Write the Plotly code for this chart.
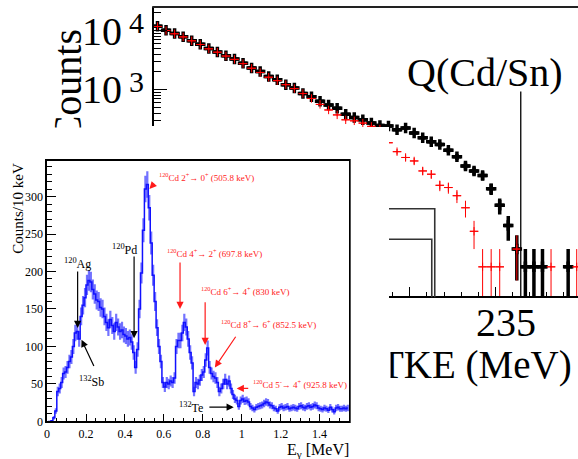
import numpy as np
import plotly.graph_objects as go

W, H = 578, 459
FONT = "Liberation Serif"

def PX(x):
    return x / W

def PY(y):
    return 1 - y / H

# ---------------- main panel: TKE spectra, 0.5 MeV bins ----------------
tke_centers = np.round(np.arange(215.25, 240.0, 0.5), 2)
counts_black = [11800, 10100, 8900, 7850, 6730, 5840, 4960, 4350, 3730, 3290,
                2790, 2330, 2020, 1667, 1468, 1212, 1067, 858, 756, 638,
                547, 482, 383, 338, 308, 271, 248, 242, 210, 224,
                185, 153, 131, 118, 94, 73, 51, 42, 35, 21,
                11, 5, 2, 1, 1, 1, 0, 0, 1, 0]
counts_red = [11700, 10000, 8800, 7800, 6700, 5800, 4900, 4300, 3700, 3250,
              2750, 2300, 1950, 1620, 1420, 1212, 1040, 858, 708, 562,
              452, 373, 308, 296, 271, 239, 215, 126, 89, 71,
              62, 42, 37, 24, 22, 16, 10, 4, 1, 1,
              1, 0, 2, 0, 0, 0, 1, 0, 0, 1]
q_value = 236.48
main_x_ticks = [230, 235]
main_x_minor = [229, 231, 232, 233, 234, 236, 237, 238, 239]
main_y_ticks = [1000, 10000]
main_y_minor = [300, 400, 500, 600, 700, 800, 900,
                2000, 3000, 4000, 5000, 6000, 7000, 8000, 9000, 20000]

# ---------------- inset: gamma-ray spectrum, 10 keV bins ----------------
e_gamma = np.round(np.arange(0.005, 1.55, 0.01), 3)
gamma_counts = [0, 0, 1, 5, 14, 40, 44, 52, 64, 66,
                72, 80, 86, 100, 118, 120, 110, 140, 155, 165,
                182, 188, 186, 176, 170, 162, 160, 152, 150, 140,
                132, 125, 136, 128, 120, 132, 126, 120, 122, 116,
                114, 110, 112, 106, 92, 72, 96, 150, 198, 255,
                310, 316, 285, 238, 195, 160, 125, 100, 80, 52,
                46, 52, 50, 54, 52, 58, 100, 108, 108, 118,
                132, 126, 110, 92, 78, 40, 52, 50, 55, 62,
                66, 82, 98, 72, 64, 60, 58, 52, 40, 44,
                50, 56, 50, 54, 44, 36, 30, 28, 20, 28,
                30, 27, 28, 26, 20, 18, 16, 19, 20, 21,
                22, 24, 26, 25, 22, 21, 18, 17, 14, 19,
                20, 18, 19, 20, 17, 18, 19, 18, 17, 20,
                21, 19, 18, 20, 21, 19, 20, 22, 21, 18,
                17, 16, 18, 17, 15, 19, 16, 13, 18, 19,
                17, 17, 18, 17, 18]

# ---------------- axis geometry (pixels of the 578x459 picture) ----------------
MAIN_L, MAIN_T, MAIN_B = 151, 7, 302
VIS_L, VIS_B = 388, 128          # main axes visible right of / above the inset
X235, PPM = 495.0, 17.2          # pixel of 235 MeV, pixels per MeV
LOG_TOP, LOG_BOT = 4.4, -0.517
def tke_at(px):
    return 235 + (px - X235) / PPM
def log_at(py):
    return LOG_TOP - (py - MAIN_T) / 60.0

IN_L, IN_R, IN_T, IN_B = 44.3, 348, 163, 428

fig = go.Figure()

def poisson(n):
    n = np.asarray(n, float)
    up = np.sqrt(n)
    dn = np.minimum(np.sqrt(n), n - 1e-3)
    return up, dn

cb = np.array(counts_black, float)
mb = cb > 0
up, dn = poisson(cb[mb])
fig.add_trace(go.Scatter(
    x=tke_centers[mb], y=cb[mb], mode="markers", xaxis="x", yaxis="y",
    marker=dict(symbol="cross-thin", size=7.5, line=dict(width=3.5, color="black")),
    error_y=dict(type="data", array=up, arrayminus=dn, thickness=3.5, width=0, color="black"),
    error_x=dict(type="constant", value=0.25, thickness=3.5, width=0, color="black"),
    showlegend=False, hoverinfo="skip"))

cr = np.array(counts_red, float)
mr = cr > 0
up, dn = poisson(cr[mr])
fig.add_trace(go.Scatter(
    x=tke_centers[mr], y=cr[mr], mode="markers", xaxis="x", yaxis="y",
    marker=dict(symbol="cross-thin", size=6, line=dict(width=1, color="#ff0000")),
    error_y=dict(type="data", array=up, arrayminus=dn, thickness=1, width=0, color="#ff0000"),
    error_x=dict(type="constant", value=0.25, thickness=1, width=0, color="#ff0000"),
    showlegend=False, hoverinfo="skip"))

# dummy trace for the visible-tick axes of the main panel
fig.add_trace(go.Scatter(x=[], y=[], xaxis="x3", yaxis="y3", showlegend=False))

gc = np.array(gamma_counts, float)
fig.add_trace(go.Scatter(
    x=e_gamma, y=gc, mode="lines", xaxis="x2", yaxis="y2",
    line=dict(shape="hvh", color="#1010ff", width=1.5),
    error_y=dict(type="data", array=np.sqrt(gc), thickness=2.2, width=0,
                 color="rgba(40,40,255,0.65)"),
    showlegend=False, hoverinfo="skip"))

hidden = dict(visible=False, showgrid=False, zeroline=False)
tickfont = dict(family=FONT, size=12, color="black")

fig.update_layout(
    width=W, height=H, margin=dict(l=0, r=0, t=0, b=0),
    paper_bgcolor="white", plot_bgcolor="rgba(0,0,0,0)",
    font=dict(family=FONT, color="black"),
    xaxis=dict(domain=[PX(MAIN_L), 1], range=[tke_at(MAIN_L), tke_at(W)], anchor="y", **hidden),
    yaxis=dict(domain=[PY(MAIN_B), PY(MAIN_T)], type="log", range=[LOG_BOT, LOG_TOP], anchor="x", **hidden),
    xaxis3=dict(domain=[PX(VIS_L), 1], range=[tke_at(VIS_L), tke_at(W)], anchor="free",
                position=PY(MAIN_B), showgrid=False, zeroline=False,
                showline=True, linewidth=2, linecolor="black",
                tickmode="array", tickvals=main_x_ticks, ticks="inside", ticklen=9,
                tickwidth=1.2, tickcolor="black", showticklabels=False,
                minor=dict(tickvals=main_x_minor, ticks="inside", ticklen=4.5,
                           tickwidth=1.2, tickcolor="black", showgrid=False)),
    yaxis3=dict(domain=[PY(VIS_B), PY(MAIN_T)], type="log", range=[log_at(VIS_B), LOG_TOP],
                anchor="free", position=PX(MAIN_L), showgrid=False, zeroline=False,
                showline=True, linewidth=2, linecolor="black",
                tickmode="array", tickvals=main_y_ticks, ticks="inside", ticklen=13,
                tickwidth=1.2, tickcolor="black", showticklabels=False,
                minor=dict(tickvals=main_y_minor, ticks="inside", ticklen=7,
                           tickwidth=1.2, tickcolor="black", showgrid=False)),
    xaxis2=dict(domain=[PX(IN_L), PX(IN_R)], range=[0, 1.552], anchor="y2",
                showline=True, mirror=True, linewidth=1.5, linecolor="black",
                showgrid=False, zeroline=False, ticks="inside", ticklen=8,
                tick0=0, dtick=0.2, tickwidth=1, tickcolor="black", tickfont=tickfont,
                minor=dict(dtick=0.05, ticks="inside", ticklen=4, tickwidth=1, tickcolor="black")),
    yaxis2=dict(domain=[PY(IN_B), PY(IN_T)], range=[0, 348], anchor="x2",
                showline=True, mirror=True, linewidth=1.5, linecolor="black",
                showgrid=False, zeroline=False, ticks="inside", ticklen=9,
                tick0=0, dtick=50, tickwidth=1, tickcolor="black", tickfont=tickfont,
                minor=dict(dtick=10, ticks="inside", ticklen=5, tickwidth=1, tickcolor="black")),
)

# shapes on the log axis take data (count) values
Y_BOTTOM = 10 ** LOG_BOT
shapes = []
shapes.append(dict(type="line", xref="paper", yref="paper", x0=PX(MAIN_L - 1), x1=1,
                   y0=PY(MAIN_T), y1=PY(MAIN_T), line=dict(color="#222", width=2), layer="above"))
shapes.append(dict(type="line", xref="x", yref="y", x0=q_value, x1=q_value,
                   y0=Y_BOTTOM, y1=10 ** log_at(93), line=dict(color="black", width=1.3), layer="above"))
for yl, xr in [(10 ** log_at(212), tke_at(434)), (10 ** log_at(243), tke_at(431))]:
    shapes.append(dict(type="path", xref="x", yref="y",
                       path=f"M {tke_at(VIS_L)},{yl} L {xr},{yl} L {xr},{Y_BOTTOM}",
                       line=dict(color="#333", width=1.6), layer="above"))
shapes.append(dict(type="rect", xref="paper", yref="paper", x0=0, x1=PX(VIS_L),
                   y0=PY(161.5), y1=PY(129), fillcolor="white", line=dict(width=0), layer="above"))
shapes.append(dict(type="rect", xref="paper", yref="paper", x0=PX(349.5), x1=PX(VIS_L),
                   y0=0, y1=PY(129), fillcolor="white", line=dict(width=0), layer="above"))
fig.update_layout(shapes=shapes)

ann = []
def txt(x, y, s, size, xanchor="center", yanchor="middle", angle=0, color="black", xref="paper", yref="paper"):
    ann.append(dict(x=x, y=y, xref=xref, yref=yref, text=s, showarrow=False,
                    xanchor=xanchor, yanchor=yanchor, textangle=angle,
                    font=dict(family=FONT, size=size, color=color)))

# main panel texts
txt(PX(65), PY(87), "Counts", 40, angle=-90)
txt(PX(100), PY(32), "10", 40)
txt(PX(134), PY(23), "4", 30)
txt(PX(100), PY(91), "10", 40)
txt(PX(134), PY(83), "3", 30)
txt(PX(485), PY(74), "Q(Cd/Sn)", 40)
txt(PX(506), PY(328), "235", 40)
txt(PX(574), PY(371), "TKE (MeV)", 39, xanchor="right")
# white covers for text hidden under the inset
for (x0, y0, w, h) in [(38, 129, 60, 30), (355, 335, 33, 60)]:
    ann.append(dict(x=PX(x0), y=PY(y0), xref="paper", yref="paper", text=" ",
                    showarrow=False, xanchor="left", yanchor="top", width=w, height=h,
                    bgcolor="white", borderpad=0, font=dict(size=4)))

# inset titles
txt(PX(15), PY(211), "Counts/10 keV", 15, angle=-90)
txt(PX(350), PY(457.5), "E<sub>γ</sub> [MeV]", 16, xanchor="right")

RED = "#ff1a1a"
def lab(x, y, s, size, color, xanchor):
    txt(x, y, s, size, xanchor=xanchor, color=color, xref="x2", yref="y2")

lab(0.154, 211, "<sup>120</sup>Ag", 12, "black", "center")
lab(0.400, 230, "<sup>120</sup>Pd", 12, "black", "center")
lab(0.228, 53.5, "<sup>132</sup>Sb", 12, "black", "center")
lab(0.811, 19, "<sup>132</sup>Te", 12, "black", "right")
lab(0.566, 326, "<sup>120</sup>Cd 2<sup>+</sup>→ 0<sup>+</sup> (505.8 keV)", 9, RED, "left")
lab(0.607, 224.6, "<sup>120</sup>Cd 4<sup>+</sup>→ 2<sup>+</sup> (697.8 keV)", 9, RED, "left")
lab(0.780, 174.6, "<sup>120</sup>Cd 6<sup>+</sup>→ 4<sup>+</sup> (830 keV)", 9, RED, "left")
lab(0.882, 130, "<sup>120</sup>Cd 8<sup>+</sup>→ 6<sup>+</sup> (852.5 keV)", 9, RED, "left")
lab(1.046, 49.6, "<sup>120</sup>Cd 5<sup>-</sup>→ 4<sup>+</sup> (925.8 keV)", 9, RED, "left")

def arrow(xt, yt, xh, yh, color):
    ann.append(dict(x=xh, y=yh, ax=xt, ay=yt, xref="x2", yref="y2", axref="x2", ayref="y2",
                    text="", showarrow=True, arrowhead=2, arrowsize=1.2, arrowwidth=1.2,
                    arrowcolor=color, standoff=0, startstandoff=0))

arrow(0.157, 202, 0.157, 124.6, "black")
arrow(0.447, 222, 0.447, 111, "black")
arrow(0.244, 72, 0.177, 109, "black")
arrow(0.826, 19, 0.959, 19, "black")
arrow(0.557, 319, 0.526, 310, RED)
arrow(0.683, 214, 0.683, 150, RED)
arrow(0.812, 161, 0.812, 102, RED)
arrow(0.974, 115, 0.862, 72, RED)
arrow(1.041, 44, 0.974, 44, RED)

fig.update_layout(annotations=ann)
fig.write_html("out.html", config={"displayModeBar": False})
